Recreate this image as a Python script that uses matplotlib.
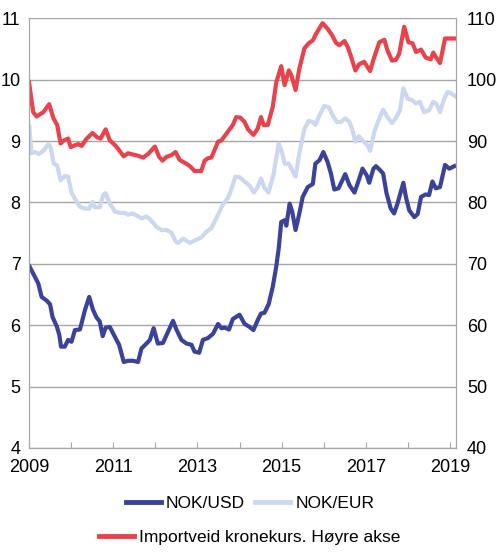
import matplotlib.pyplot as plt

plt.rcParams['font.family'] = ['Liberation Sans', 'DejaVu Sans']

# NOK/USD (left axis), decimal years
usd_t = [2009.01, 2009.10, 2009.22, 2009.30, 2009.42, 2009.50, 2009.56, 2009.66, 2009.72, 2009.76,
         2009.85, 2009.93, 2010.01, 2010.09, 2010.21, 2010.33, 2010.43, 2010.52, 2010.60, 2010.68,
         2010.75, 2010.82, 2010.92, 2011.04, 2011.14, 2011.25, 2011.35, 2011.47, 2011.59, 2011.67,
         2011.79, 2011.87, 2011.96, 2012.06, 2012.18, 2012.30, 2012.42, 2012.50, 2012.62, 2012.74,
         2012.86, 2012.93, 2013.04, 2013.13, 2013.25, 2013.37, 2013.49, 2013.57, 2013.64, 2013.75,
         2013.84, 2014.00, 2014.12, 2014.22, 2014.33, 2014.43, 2014.51, 2014.59, 2014.69, 2014.79,
         2014.87, 2014.93, 2014.99, 2015.07, 2015.11, 2015.19, 2015.25, 2015.33, 2015.42, 2015.50,
         2015.62, 2015.74, 2015.80, 2015.90, 2015.99, 2016.09, 2016.17, 2016.25, 2016.35, 2016.51,
         2016.61, 2016.73, 2016.83, 2016.92, 2017.02, 2017.08, 2017.18, 2017.24, 2017.33, 2017.41,
         2017.49, 2017.59, 2017.67, 2017.75, 2017.89, 2017.95, 2018.03, 2018.15, 2018.23, 2018.31,
         2018.42, 2018.50, 2018.58, 2018.66, 2018.76, 2018.88, 2018.98, 2019.10]
usd = [6.96, 6.84, 6.68, 6.46, 6.40, 6.34, 6.13, 5.98, 5.84, 5.65,
       5.65, 5.76, 5.73, 5.92, 5.93, 6.25, 6.46, 6.25, 6.13, 6.06,
       5.82, 5.96, 5.97, 5.81, 5.68, 5.40, 5.42, 5.42, 5.40, 5.62,
       5.70, 5.76, 5.95, 5.70, 5.71, 5.89, 6.07, 5.93, 5.76, 5.70,
       5.68, 5.57, 5.55, 5.76, 5.79, 5.86, 6.02, 5.95, 5.96, 5.93,
       6.10, 6.17, 6.02, 5.98, 5.92, 6.08, 6.19, 6.20, 6.34, 6.63,
       6.95, 7.25, 7.68, 7.71, 7.62, 7.98, 7.85, 7.55, 7.82, 8.09,
       8.25, 8.30, 8.63, 8.69, 8.82, 8.66, 8.47, 8.21, 8.23, 8.46,
       8.28, 8.16, 8.36, 8.55, 8.44, 8.32, 8.55, 8.59, 8.53, 8.47,
       8.15, 7.90, 7.82, 7.98, 8.32, 8.09, 7.87, 7.76, 7.81, 8.09,
       8.13, 8.12, 8.34, 8.23, 8.25, 8.61, 8.55, 8.59]

# NOK/EUR (left axis)
eur_t = [2009.01, 2009.06, 2009.14, 2009.24, 2009.34, 2009.46, 2009.51, 2009.59, 2009.67, 2009.75,
         2009.85, 2009.93, 2010.01, 2010.09, 2010.21, 2010.33, 2010.43, 2010.51, 2010.56, 2010.68,
         2010.76, 2010.82, 2010.92, 2011.04, 2011.16, 2011.27, 2011.35, 2011.46, 2011.57, 2011.67,
         2011.79, 2011.88, 2012.03, 2012.14, 2012.26, 2012.38, 2012.48, 2012.54, 2012.66, 2012.82,
         2012.97, 2013.09, 2013.21, 2013.33, 2013.47, 2013.60, 2013.72, 2013.80, 2013.90, 2014.00,
         2014.12, 2014.24, 2014.34, 2014.43, 2014.51, 2014.59, 2014.69, 2014.81, 2014.93, 2015.01,
         2015.07, 2015.17, 2015.33, 2015.42, 2015.54, 2015.64, 2015.74, 2015.80, 2015.90, 2016.01,
         2016.12, 2016.21, 2016.31, 2016.41, 2016.51, 2016.61, 2016.68, 2016.75, 2016.83, 2016.92,
         2017.04, 2017.10, 2017.20, 2017.32, 2017.41, 2017.51, 2017.62, 2017.71, 2017.81, 2017.89,
         2017.99, 2018.09, 2018.19, 2018.28, 2018.38, 2018.50, 2018.60, 2018.68, 2018.76, 2018.86,
         2018.94, 2019.02, 2019.12]
eur = [9.23, 8.80, 8.82, 8.79, 8.84, 8.95, 8.90, 8.63, 8.60, 8.36,
       8.43, 8.42, 8.16, 8.06, 7.93, 7.90, 7.90, 8.01, 7.92, 7.92,
       8.12, 8.15, 7.98, 7.85, 7.83, 7.83, 7.80, 7.82, 7.78, 7.74,
       7.77, 7.72, 7.60, 7.55, 7.55, 7.51, 7.37, 7.34, 7.41, 7.34,
       7.39, 7.43, 7.52, 7.58, 7.77, 7.96, 8.07, 8.20, 8.42, 8.41,
       8.34, 8.27, 8.16, 8.25, 8.39, 8.24, 8.16, 8.47, 8.96, 8.81,
       8.63, 8.63, 8.42, 8.80, 9.20, 9.33, 9.31, 9.26, 9.42, 9.57,
       9.55, 9.42, 9.31, 9.31, 9.37, 9.31, 9.18, 8.99, 9.08, 9.01,
       8.93, 8.84, 9.15, 9.37, 9.51, 9.39, 9.29, 9.37, 9.50, 9.86,
       9.69, 9.67, 9.61, 9.64, 9.47, 9.50, 9.64, 9.60, 9.47, 9.69,
       9.80, 9.78, 9.73]

# Importveid kronekurs (right axis)
imp_t = [2009.00, 2009.10, 2009.18, 2009.34, 2009.48, 2009.58, 2009.67, 2009.75, 2009.83, 2009.93,
         2009.99, 2010.09, 2010.17, 2010.25, 2010.37, 2010.51, 2010.62, 2010.70, 2010.82, 2010.92,
         2011.06, 2011.14, 2011.25, 2011.35, 2011.47, 2011.59, 2011.71, 2011.83, 2011.99, 2012.09,
         2012.17, 2012.26, 2012.38, 2012.48, 2012.58, 2012.74, 2012.84, 2012.93, 2013.09, 2013.17,
         2013.25, 2013.33, 2013.49, 2013.57, 2013.72, 2013.84, 2013.92, 2014.02, 2014.12, 2014.20,
         2014.33, 2014.43, 2014.51, 2014.57, 2014.67, 2014.79, 2014.87, 2014.99, 2015.07, 2015.17,
         2015.23, 2015.33, 2015.42, 2015.54, 2015.64, 2015.74, 2015.82, 2015.97, 2016.09, 2016.20,
         2016.29, 2016.37, 2016.49, 2016.57, 2016.65, 2016.75, 2016.84, 2016.96, 2017.10, 2017.20,
         2017.32, 2017.44, 2017.51, 2017.62, 2017.71, 2017.79, 2017.91, 2018.01, 2018.11, 2018.19,
         2018.31, 2018.42, 2018.54, 2018.60, 2018.66, 2018.76, 2018.88, 2019.12]
imp = [99.6, 94.7, 94.0, 94.7, 96.0, 93.7, 92.6, 89.6, 90.1, 90.4,
       89.0, 89.3, 89.5, 89.2, 90.4, 91.3, 90.6, 90.4, 91.9, 90.1,
       89.2, 88.5, 87.5, 88.0, 87.8, 87.6, 87.3, 87.9, 89.1, 87.4,
       86.8, 87.4, 87.7, 88.2, 86.9, 86.3, 85.8, 85.1, 85.1, 86.8,
       87.2, 87.3, 89.9, 90.1, 91.5, 92.6, 93.9, 93.8, 93.1, 91.9,
       91.0, 92.0, 93.9, 92.6, 92.6, 95.6, 99.5, 102.2, 99.1, 101.5,
       100.7, 98.3, 101.8, 105.1, 105.9, 106.4, 107.5, 109.2, 108.3, 107.2,
       106.0, 105.6, 106.3, 105.3, 103.7, 101.5, 102.5, 102.9, 101.4, 103.7,
       106.1, 106.5, 104.8, 103.1, 103.2, 104.2, 108.6, 106.1, 105.9, 104.5,
       104.9, 103.6, 103.3, 104.4, 103.7, 102.7, 106.7, 106.7]

years = list(range(2009, 2020))
year_labels = ['2009', '', '2011', '', '2013', '', '2015', '', '2017', '', '2019']

c_usd = '#3a4299'
c_eur = '#cbd8f0'
c_imp = '#e8434c'
grey = '#a6a6a6'

fig = plt.figure(figsize=(5, 5.53), dpi=100)
ax = fig.add_axes([0.058, 0.19, 0.854, 0.777])
ax2 = ax.twinx()

l_eur, = ax.plot(eur_t, eur, color=c_eur, lw=3.0, solid_joinstyle='round')
l_usd, = ax.plot(usd_t, usd, color=c_usd, lw=3.0, solid_joinstyle='round')
l_imp, = ax2.plot(imp_t, imp, color=c_imp, lw=3.0, solid_joinstyle='round')

ax.set_xlim(2009, 2019.14)
ax.set_ylim(4, 11)
ax2.set_ylim(40, 110)
ax.set_yticks(range(4, 12))
ax2.set_yticks(range(40, 111, 10))
ax.set_xticks(years)
ax.set_xticklabels(year_labels)

ax.grid(axis='y', color=grey, lw=1)
ax.set_axisbelow(True)
for a in (ax, ax2):
    for s in a.spines.values():
        s.set_color(grey)
    a.spines['top'].set_visible(False)
ax.tick_params(axis='y', length=0, labelsize=13, pad=6)
ax2.tick_params(axis='y', length=0, labelsize=13, pad=8)
ax.tick_params(axis='x', direction='in', length=4, color=grey, labelsize=13, pad=8)

leg1 = fig.legend([l_usd, l_eur], ['NOK/USD', 'NOK/EUR'], loc='center',
                  bbox_to_anchor=(0.5, 0.09), ncol=2, frameon=False, fontsize=12.5,
                  handlelength=2.0, handletextpad=0.3, columnspacing=0.6)
for h in leg1.get_lines():
    h.set_linewidth(3.5)
leg2 = fig.legend([l_imp], ['Importveid kronekurs. Høyre akse'], loc='center',
                  bbox_to_anchor=(0.5, 0.028), frameon=False, fontsize=12.5,
                  handlelength=2.0, handletextpad=0.3)
for h in leg2.get_lines():
    h.set_linewidth(3.5)

fig.savefig('out.png', dpi=100)
